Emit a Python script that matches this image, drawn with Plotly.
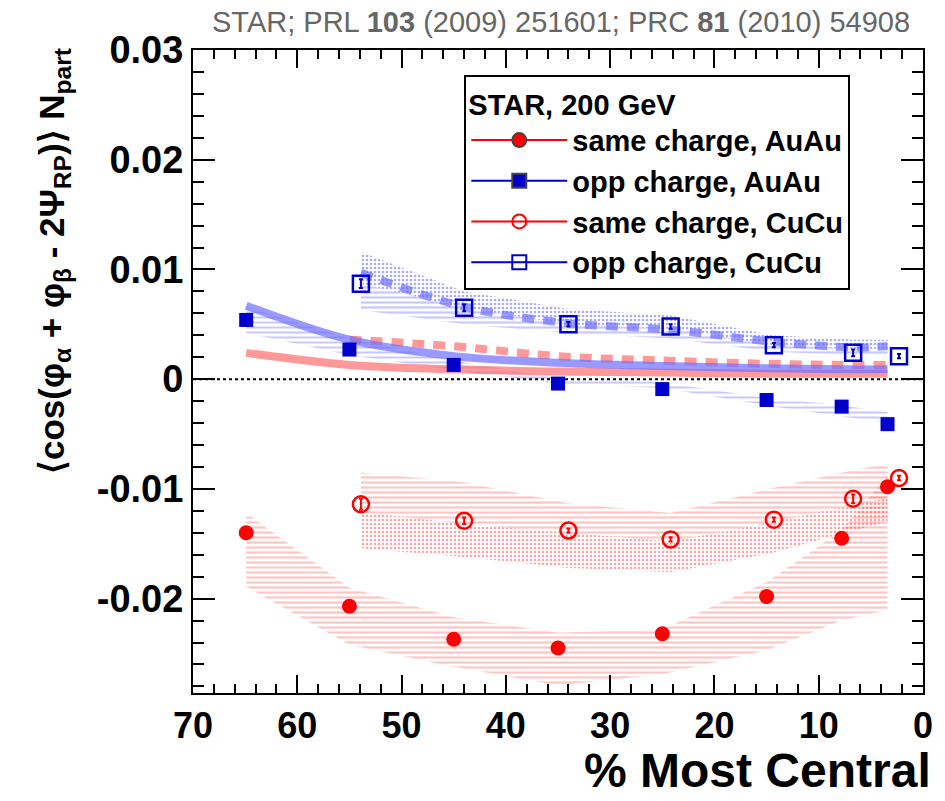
import plotly.graph_objects as go

# ---------------- data ----------------
x_auau = [64.9, 55.0, 45.0, 35.0, 25.0, 15.0, 7.8, 3.4]
same_auau = [-0.0140, -0.0207, -0.0237, -0.0245, -0.0232, -0.0198, -0.0145, -0.0098]
same_auau_err = [0.0005, 0.0002, 0.0002, 0.0002, 0.0002, 0.0002, 0.0003, 0.0004]
opp_auau = [0.0054, 0.0027, 0.0013, -0.0004, -0.0009, -0.0019, -0.0025, -0.0041]
opp_auau_err = [0.0005, 0.0002, 0.0002, 0.0002, 0.0002, 0.0002, 0.0003, 0.0005]

x_cucu = [53.9, 44.0, 34.0, 24.2, 14.3, 6.7, 2.3]
same_cucu = [-0.0114, -0.0129, -0.0138, -0.0146, -0.0128, -0.0109, -0.0090]
same_cucu_err = [0.0005, 0.0003, 0.0002, 0.0002, 0.0002, 0.0004, 0.0002]
opp_cucu = [0.0087, 0.0065, 0.0050, 0.0048, 0.0031, 0.0024, 0.0021]
opp_cucu_err = [0.0004, 0.0003, 0.0002, 0.0002, 0.0002, 0.0003, 0.0002]

# systematic bands
band_auau_x = [64.9, 55.0, 45.0, 35.0, 25.0, 15.0, 7.8, 3.4]
same_auau_hi = [-0.0122, -0.0190, -0.0217, -0.0231, -0.0228, -0.0185, -0.0138, -0.0088]
same_auau_lo = [-0.0189, -0.0242, -0.0262, -0.0279, -0.0269, -0.0247, -0.0220, -0.0210]
opp_auau_hi = [0.0066, 0.0037, 0.0017, 0.0001, -0.0003, -0.0017, -0.0024, -0.0030]
opp_auau_lo = [0.0042, 0.0022, 0.0008, -0.0004, -0.0008, -0.0024, -0.0034, -0.0040]

band_cucu_x = [53.9, 44.0, 34.0, 24.2, 14.3, 6.7, 3.4]
same_cucu_hi = [-0.0085, -0.0094, -0.0113, -0.0122, -0.0099, -0.0083, -0.0077]
same_cucu_mid = [-0.0121, -0.0132, -0.0140, -0.0148, -0.0130, -0.0115, -0.0108]
same_cucu_lo = [-0.0154, -0.0162, -0.0172, -0.0176, -0.0158, -0.0138, -0.0130]
opp_cucu_hi = [0.0116, 0.0080, 0.0064, 0.0058, 0.0040, 0.0036, 0.0036]
opp_cucu_mid = [0.0087, 0.0065, 0.0050, 0.0046, 0.0031, 0.0028, 0.0028]
opp_cucu_lo = [0.0063, 0.0050, 0.0042, 0.0037, 0.0025, 0.0022, 0.0022]

# model curves
model_auau_x = [64.9, 55.0, 45.0, 35.0, 25.0, 15.0, 7.8, 3.4]
model_opp_auau = [0.0067, 0.0036, 0.0021, 0.0015, 0.0012, 0.0010, 0.0009, 0.0009]
model_same_auau = [0.0024, 0.0013, 0.0009, 0.0007, 0.0006, 0.0005, 0.0005, 0.0005]
model_same_cucu_x = [55.0, 45.0, 35.0, 25.0, 15.0, 7.8, 3.4]
model_same_cucu = [0.0036, 0.0030, 0.0021, 0.0017, 0.0014, 0.0013, 0.0013]
model_opp_cucu_x = [53.9, 44.0, 34.0, 24.2, 14.3, 6.7, 3.4]
model_opp_cucu = [0.0097, 0.0066, 0.0051, 0.0045, 0.0034, 0.0029, 0.0030]

zero_x = [70, 0]
zero_y = [0, 0]

y_tickvals = [-0.02, -0.01, 0, 0.01, 0.02, 0.03]
y_ticktext = ["-0.02", "-0.01", "0", "0.01", "0.02", "0.03"]

legend_names = ["same charge, AuAu", "opp charge, AuAu", "same charge, CuCu", "opp charge, CuCu"]

RED = "#ff0000"
BLUE = "#0000cc"
FONT = "Liberation Sans"

fig = go.Figure()


def band(x, hi, lo, shape, fg, size, solidity):
    fig.add_trace(go.Scatter(
        x=list(x) + list(x)[::-1], y=list(hi) + list(lo)[::-1],
        mode="lines", line=dict(width=0), fill="toself",
        fillcolor="rgba(0,0,0,0)",
        fillpattern=dict(shape=shape, fgcolor=fg, bgcolor="rgba(0,0,0,0)",
                         size=size, solidity=solidity),
        showlegend=False, hoverinfo="skip"))


# bands
band(band_auau_x, same_auau_hi, same_auau_lo, "-", "rgba(255,60,60,0.6)", 5, 0.45)
band(band_cucu_x, same_cucu_hi, same_cucu_mid, "-", "rgba(255,60,60,0.6)", 5, 0.45)
band(band_cucu_x, same_cucu_mid, same_cucu_lo, ".", "rgba(255,20,20,0.75)", 4, 0.35)
band(band_auau_x, opp_auau_hi, opp_auau_lo, "-", "rgba(70,70,255,0.6)", 5, 0.4)
band(band_cucu_x, opp_cucu_hi, opp_cucu_mid, ".", "rgba(30,30,255,0.75)", 4, 0.35)
band(band_cucu_x, opp_cucu_mid, opp_cucu_lo, "-", "rgba(70,70,255,0.6)", 5, 0.45)

# zero line
fig.add_trace(go.Scatter(x=zero_x, y=zero_y, mode="lines",
                         line=dict(color="black", width=2, dash="dot"),
                         showlegend=False, hoverinfo="skip"))

# model curves
fig.add_trace(go.Scatter(x=model_auau_x, y=model_same_auau, mode="lines",
                         line=dict(color="rgba(255,110,110,0.7)", width=8, shape="spline"),
                         showlegend=False))
fig.add_trace(go.Scatter(x=model_same_cucu_x, y=model_same_cucu, mode="lines",
                         line=dict(color="rgba(255,110,110,0.7)", width=8, dash="12px,9px", shape="spline"),
                         showlegend=False))
fig.add_trace(go.Scatter(x=model_auau_x, y=model_opp_auau, mode="lines",
                         line=dict(color="rgba(110,110,255,0.7)", width=8, shape="spline"),
                         showlegend=False))
fig.add_trace(go.Scatter(x=model_opp_cucu_x, y=model_opp_cucu, mode="lines",
                         line=dict(color="rgba(110,110,255,0.7)", width=8, dash="12px,9px", shape="spline"),
                         showlegend=False))

# data points
fig.add_trace(go.Scatter(x=x_auau, y=same_auau, mode="markers",
                         marker=dict(symbol="circle", size=15, color=RED, line=dict(width=0)),
                         error_y=dict(type="data", array=same_auau_err, color=RED, thickness=2, width=2),
                         showlegend=False))
fig.add_trace(go.Scatter(x=x_auau, y=opp_auau, mode="markers",
                         marker=dict(symbol="square", size=14, color=BLUE, line=dict(width=0)),
                         error_y=dict(type="data", array=opp_auau_err, color=BLUE, thickness=2, width=2),
                         showlegend=False))
fig.add_trace(go.Scatter(x=x_cucu, y=same_cucu, mode="markers",
                         marker=dict(symbol="circle-open", size=16, color=RED, line=dict(width=2.5)),
                         error_y=dict(type="data", array=same_cucu_err, color=RED, thickness=2, width=2),
                         showlegend=False))
fig.add_trace(go.Scatter(x=x_cucu, y=opp_cucu, mode="markers",
                         marker=dict(symbol="square-open", size=16, color=BLUE, line=dict(width=2.5)),
                         error_y=dict(type="data", array=opp_cucu_err, color=BLUE, thickness=2, width=2),
                         showlegend=False))

# legend entries
leg_styles = [
    dict(symbol="circle", color=RED),
    dict(symbol="square", color=BLUE),
    dict(symbol="circle-open", color=RED),
    dict(symbol="square-open", color=BLUE),
]
for i, (name, st) in enumerate(zip(legend_names, leg_styles)):
    fig.add_trace(go.Scatter(
        x=[None], y=[None], mode="lines+markers", name=name, legendgroup=f"g{i}",
        line=dict(color=st["color"], width=2),
        marker=dict(symbol=st["symbol"], size=14, color=st["color"], line=dict(width=2))))

fig.update_layout(
    width=945, height=801,
    margin=dict(l=193, r=12, t=50, b=108),
    paper_bgcolor="white", plot_bgcolor="white",
    font=dict(family=FONT, color="black"),
    legend=dict(
        x=(468 - 193) / 740, y=(693 - 75) / 643, xanchor="left", yanchor="top",
        bgcolor="white", bordercolor="black", borderwidth=2,
        font=dict(family=FONT, size=29, weight="bold", color="black"),
        title=dict(text="STAR, 200 GeV", font=dict(family=FONT, size=29, weight="bold")),
        tracegroupgap=0, itemwidth=96,
    ),
    annotations=[
        dict(text="STAR; PRL <b>103</b> (2009) 251601; PRC <b>81</b> (2010) 54908",
             xref="paper", yref="paper", x=(922 - 193) / 740, y=1.0, xanchor="right", yanchor="middle",
             yshift=28, showarrow=False,
             font=dict(family=FONT, size=29, color="#666666")),
        dict(text="% Most Central",
             xref="paper", yref="paper", x=1.0, y=0.0, xanchor="right", yanchor="bottom",
             xshift=10, yshift=-106, showarrow=False,
             font=dict(family=FONT, size=48, weight="bold", color="black")),
        dict(text="\u27e8cos(\u03c6<sub>\u03b1</sub> + \u03c6<sub>\u03b2</sub> - 2\u03a8<sub>RP</sub>)\u27e9 N<sub>part</sub>",
             xref="paper", yref="paper", x=0.0, y=1.0, xanchor="center", yanchor="top",
             xshift=-(193 - 54), yshift=4, textangle=-90, showarrow=False,
             font=dict(family=FONT, size=35, weight="bold", color="black")),
    ],
)

fig.update_xaxes(
    range=[70, 0], showline=True, linecolor="black", linewidth=2, mirror="ticks",
    ticks="inside", ticklen=18, tickwidth=2, tickcolor="black", dtick=10, tick0=0,
    minor=dict(ticks="inside", ticklen=9, tickwidth=2, tickcolor="black", dtick=2),
    showgrid=False, zeroline=False,
    tickfont=dict(family=FONT, size=36, weight="bold"),
)
fig.update_yaxes(
    range=[-0.0286, 0.03], showline=True, linecolor="black", linewidth=2, mirror="ticks",
    ticks="inside", ticklen=22, tickwidth=2, tickcolor="black",
    tickvals=y_tickvals, ticktext=y_ticktext,
    minor=dict(ticks="inside", ticklen=11, tickwidth=2, tickcolor="black", dtick=0.002, tick0=0),
    showgrid=False, zeroline=False,
    tickfont=dict(family=FONT, size=38, weight="bold"),
)

fig.write_html("out.html")
